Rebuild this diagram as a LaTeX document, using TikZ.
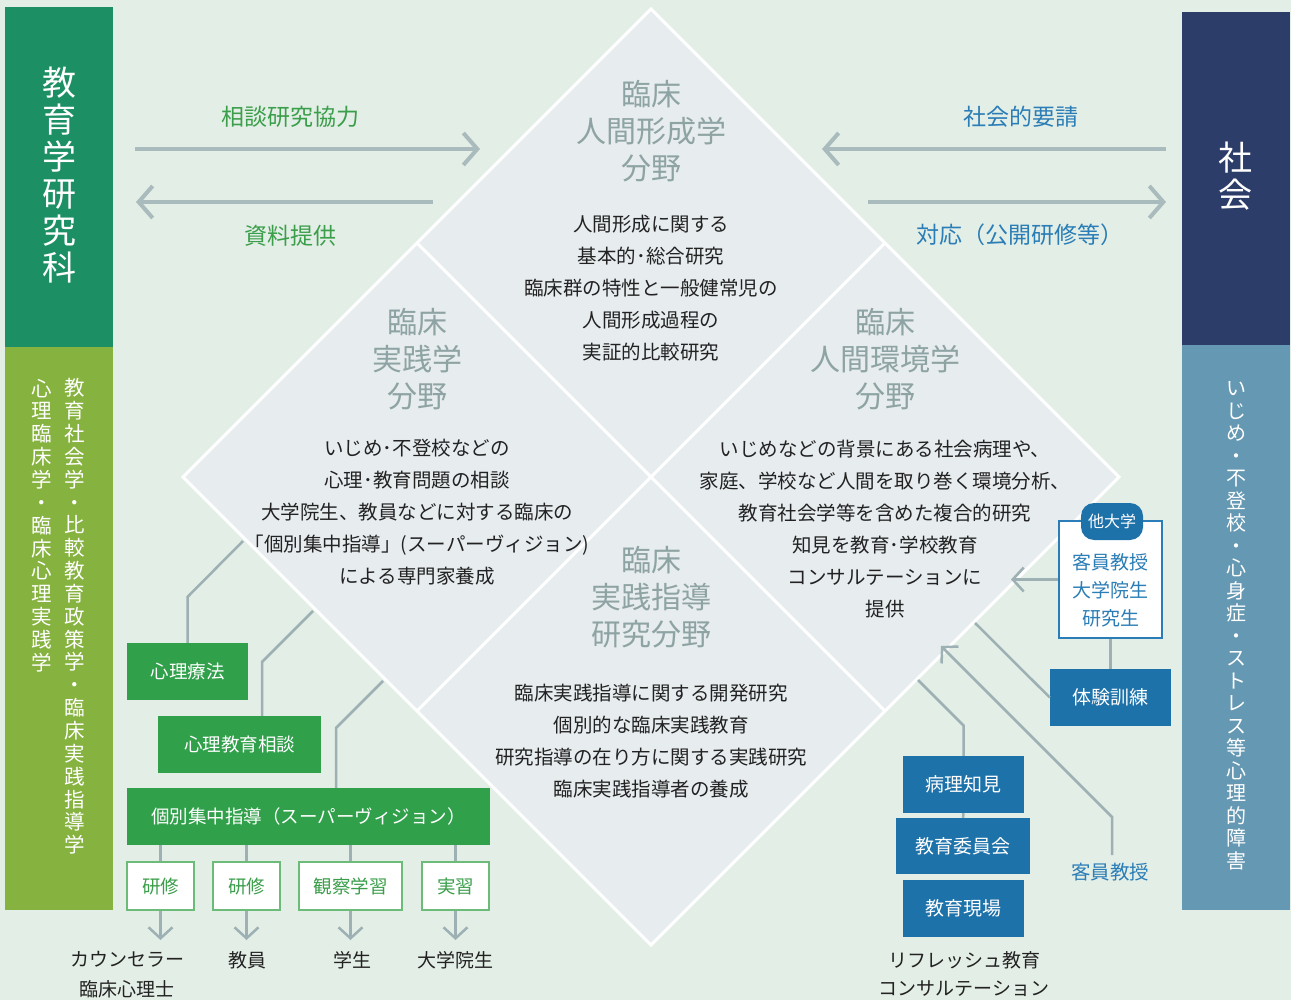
\documentclass[tikz,border=0pt]{standalone}
\usepackage{fontspec}
\setmainfont{Noto Sans CJK JP}
\usetikzlibrary{arrows.meta}
\definecolor{bgc}{HTML}{E3EEE6}
\definecolor{dmd}{HTML}{E7ECEE}
\definecolor{dkgreen}{HTML}{1C8F64}
\definecolor{ltgreen}{HTML}{86B23F}
\definecolor{navy}{HTML}{2C3D69}
\definecolor{steel}{HTML}{6598B2}
\definecolor{boxgreen}{HTML}{30A04A}
\definecolor{wborder}{HTML}{6DBB78}
\definecolor{txtgreen}{HTML}{3A9E4A}
\definecolor{boxblue}{HTML}{1E72AA}
\definecolor{txtblue}{HTML}{2A7DB6}
\definecolor{arrgray}{HTML}{A9BBBD}
\definecolor{congray}{HTML}{9DB0B3}
\definecolor{ttlgray}{HTML}{8EA3A3}
\definecolor{body}{HTML}{222222}
\newcommand\fsz[2]{\fontsize{#1}{#2}\selectfont}
\begin{document}
\begin{tikzpicture}[x=1pt,y=-1pt,
  bigarr/.style={draw=arrgray,line width=4pt,-{Straight Barb[length=14pt,width=32pt]}},
  smarr/.style={draw=congray,line width=2.5pt,-{Straight Barb[length=11pt,width=24pt]}},
  conn/.style={draw=congray,line width=2.5pt},
  gbox/.style={fill=boxgreen,text=white,inner sep=0,font=\fsz{18.5}{22}},
  wbox/.style={fill=white,draw=wborder,line width=1.8pt,text=txtgreen,inner sep=0,minimum height=48pt,font=\fsz{18.5}{22}},
  bbox/.style={fill=boxblue,text=white,inner sep=0,minimum height=57pt,font=\fsz{19}{22}},
  dtitle/.style={text=ttlgray,align=center,font=\fsz{30}{37}},
  dbody/.style={text=body,align=center,font=\fsz{19.5}{32}},
  lbl/.style={text=body,align=center,font=\fsz{19}{30}}
]
\fill[bgc] (0,0) rectangle (1291,1000);
\useasboundingbox (0,0) rectangle (1291,1000);

% side columns
\node[fill=dkgreen,minimum width=108pt,minimum height=340pt,anchor=north west,inner sep=0] (edu) at (5,7) {};
\node[fill=ltgreen,minimum width=108pt,minimum height=563pt,anchor=north west,inner sep=0] (eduS) at (5,347) {};
\node[fill=navy,minimum width=108pt,minimum height=333pt,anchor=north west,inner sep=0] (soc) at (1182,12) {};
\node[fill=steel,minimum width=108pt,minimum height=565pt,anchor=north west,inner sep=0] (socS) at (1182,345) {};

\node[text=white,align=center,font=\fsz{34}{37}] (eduT) at (59,175.5) {教\\育\\学\\研\\究\\科};
\node[text=white,align=center,font=\fsz{34}{37}] (socT) at (1235,176.5) {社\\会};
\node[text=white,align=center,font=\fsz{20.5}{22.85}] (eduA) at (75,616.5)
  {教\\育\\社\\会\\学\\・\\比\\較\\教\\育\\政\\策\\学\\・\\臨\\床\\実\\践\\指\\導\\学};
\node[text=white,align=center,font=\fsz{20.5}{22.85}] (eduB) at (42,525.5)
  {心\\理\\臨\\床\\学\\・\\臨\\床\\心\\理\\実\\践\\学};
\node[text=white,align=center,font=\fsz{20}{22.5}] (socA) at (1236,626)
  {い\\じ\\め\\・\\不\\登\\校\\・\\心\\身\\症\\・\\ス\\ト\\レ\\ス\\等\\心\\理\\的\\障\\害};

% top arrows
\coordinate (a1s) at (135,149); \coordinate (a1e) at (480,149);
\coordinate (a2s) at (433,202); \coordinate (a2e) at (136,202);
\coordinate (a3s) at (1166,149); \coordinate (a3e) at (822,149);
\coordinate (a4s) at (868,202); \coordinate (a4e) at (1166,202);
\draw[bigarr] (a1s) -- (a1e);
\draw[bigarr] (a2s) -- (a2e);
\draw[bigarr] (a3s) -- (a3e);
\draw[bigarr] (a4s) -- (a4e);
\node[text=txtgreen,font=\fsz{23}{26}] (l1) at (290,117) {相談研究協力};
\node[text=txtgreen,font=\fsz{23}{26}] (l2) at (290,236) {資料提供};
\node[text=txtblue,font=\fsz{23}{26}] (l3) at (1021,117) {社会的要請};
\node[text=txtblue,font=\fsz{23}{26}] (l4) at (1020,235) {対応（公開研修等）};

% diamond
\coordinate (dT) at (651,9); \coordinate (dR) at (1119,477);
\coordinate (dB) at (651,945); \coordinate (dL) at (183,477);
\coordinate (mTL) at (417,243); \coordinate (mTR) at (885,243);
\coordinate (mBL) at (417,711); \coordinate (mBR) at (885,711);
\draw[white,line width=3pt,fill=dmd] (dT) -- (dR) -- (dB) -- (dL) -- cycle;
\draw[white,line width=3pt] (mTL) -- (mBR);
\draw[white,line width=3pt] (mTR) -- (mBL);

\node[dtitle] (t1) at (651,131) {臨床\\人間形成学\\分野};
\node[dbody] (b1) at (651,288) {人間形成に関する\\基本的･総合研究\\臨床群の特性と一般健常児の\\人間形成過程の\\実証的比較研究};
\node[dtitle] (t2) at (417,359) {臨床\\実践学\\分野};
\node[dbody] (b2) at (417,512.5) {いじめ･不登校などの\\心理･教育問題の相談\\大学院生、教員などに対する臨床の\\「個別集中指導」(スーパーヴィジョン)\\による専門家養成};
\node[dtitle] (t3) at (885,359) {臨床\\人間環境学\\分野};
\node[dbody] (b3) at (885,529) {いじめなどの背景にある社会病理や、\\家庭、学校など人間を取り巻く環境分析、\\教育社会学等を含めた複合的研究\\知見を教育･学校教育\\コンサルテーションに\\提供};
\node[dtitle] (t4) at (651,597) {臨床\\実践指導\\研究分野};
\node[dbody] (b4) at (651,741) {臨床実践指導に関する開発研究\\個別的な臨床実践教育\\研究指導の在り方に関する実践研究\\臨床実践指導者の養成};

% left boxes
\node[gbox,minimum width=121pt,minimum height=57pt] (pt) at (187.5,671.5) {心理療法};
\node[gbox,minimum width=163pt,minimum height=57pt] (pe) at (239.5,744.5) {心理教育相談};
\node[gbox,minimum width=363pt,minimum height=57pt] (ps) at (308.5,816.5) {個別集中指導（スーパーヴィジョン）};
\coordinate (c1) at (243,541); \coordinate (c1b) at (187.5,597);
\coordinate (c2) at (313,611); \coordinate (c2b) at (262,662);
\coordinate (c3) at (383,681); \coordinate (c3b) at (336,728);
\draw[conn] (c1) -- (c1b) -- (pt.north);
\draw[conn] (c2) -- (c2b) -- (c2b |- pe.north);
\draw[conn] (c3) -- (c3b) -- (c3b |- ps.north);

\node[wbox,minimum width=67pt] (w1) at (160.5,886) {研修};
\node[wbox,minimum width=67pt] (w2) at (246.5,886) {研修};
\node[wbox,minimum width=103pt] (w3) at (350.5,886) {観察学習};
\node[wbox,minimum width=67pt] (w4) at (455.5,886) {実習};
\foreach \w in {w1,w2,w3,w4} {
  \draw[conn] (\w.north |- ps.south) -- (\w.north);
}
\coordinate (e1) at (160.5,940); \coordinate (e2) at (246.5,940);
\coordinate (e3) at (350.5,940); \coordinate (e4) at (455.5,940);
\draw[smarr] (w1.south) -- (e1);
\draw[smarr] (w2.south) -- (e2);
\draw[smarr] (w3.south) -- (e3);
\draw[smarr] (w4.south) -- (e4);
\node[lbl] (o1) at (127,975) {カウンセラー\\臨床心理士};
\node[lbl] (o2) at (247,960) {教員};
\node[lbl] (o3) at (352,960) {学生};
\node[lbl] (o4) at (455,960) {大学院生};

% right boxes
\node[fill=white,draw=txtblue,line width=1.5pt,minimum width=103pt,minimum height=117pt,inner sep=0] (tb) at (1110.5,579.5) {};
\node[text=txtblue,align=center,font=\fsz{19}{28}] (tbT) at (1110.5,590) {客員教授\\大学院生\\研究生};
\node[fill=boxblue,text=white,rounded corners=13pt,minimum width=62pt,minimum height=37pt,inner sep=0,font=\fsz{16}{18}] (pill) at (1112,521.5) {他大学};
\coordinate (tbA) at (1011,579.5);
\draw[smarr] (tb.west) -- (tbA);
\node[bbox,minimum width=121pt] (tk) at (1110.5,697.5) {体験訓練};
\draw[conn] (tb.south) -- (tb.south |- tk.north);
\coordinate (r1) at (975,623);
\draw[conn] (r1) -- (tk.west);

\node[text=txtblue,font=\fsz{19.5}{22}] (kk) at (1110,872) {客員教授};
\coordinate (k1) at (1112,855); \coordinate (k2) at (1112,817); \coordinate (k3) at (941,646);
\draw[smarr] (k1) -- (k2) -- (k3);

\node[bbox,minimum width=121pt] (byo) at (963.5,784.5) {病理知見};
\node[bbox,minimum width=134pt,minimum height=56pt] (iin) at (963,846) {教育委員会};
\node[bbox,minimum width=121pt] (gen) at (963.5,908.5) {教育現場};
\coordinate (p1) at (918,680); \coordinate (p2) at (963.5,725.5);
\draw[conn] (p1) -- (p2) -- (byo.north);
\draw[conn] (byo.south) -- (iin.north);
\node[lbl,font=\fsz{19}{28}] (rf) at (964,974) {リフレッシュ教育\\コンサルテーション};
\end{tikzpicture}
\end{document}
